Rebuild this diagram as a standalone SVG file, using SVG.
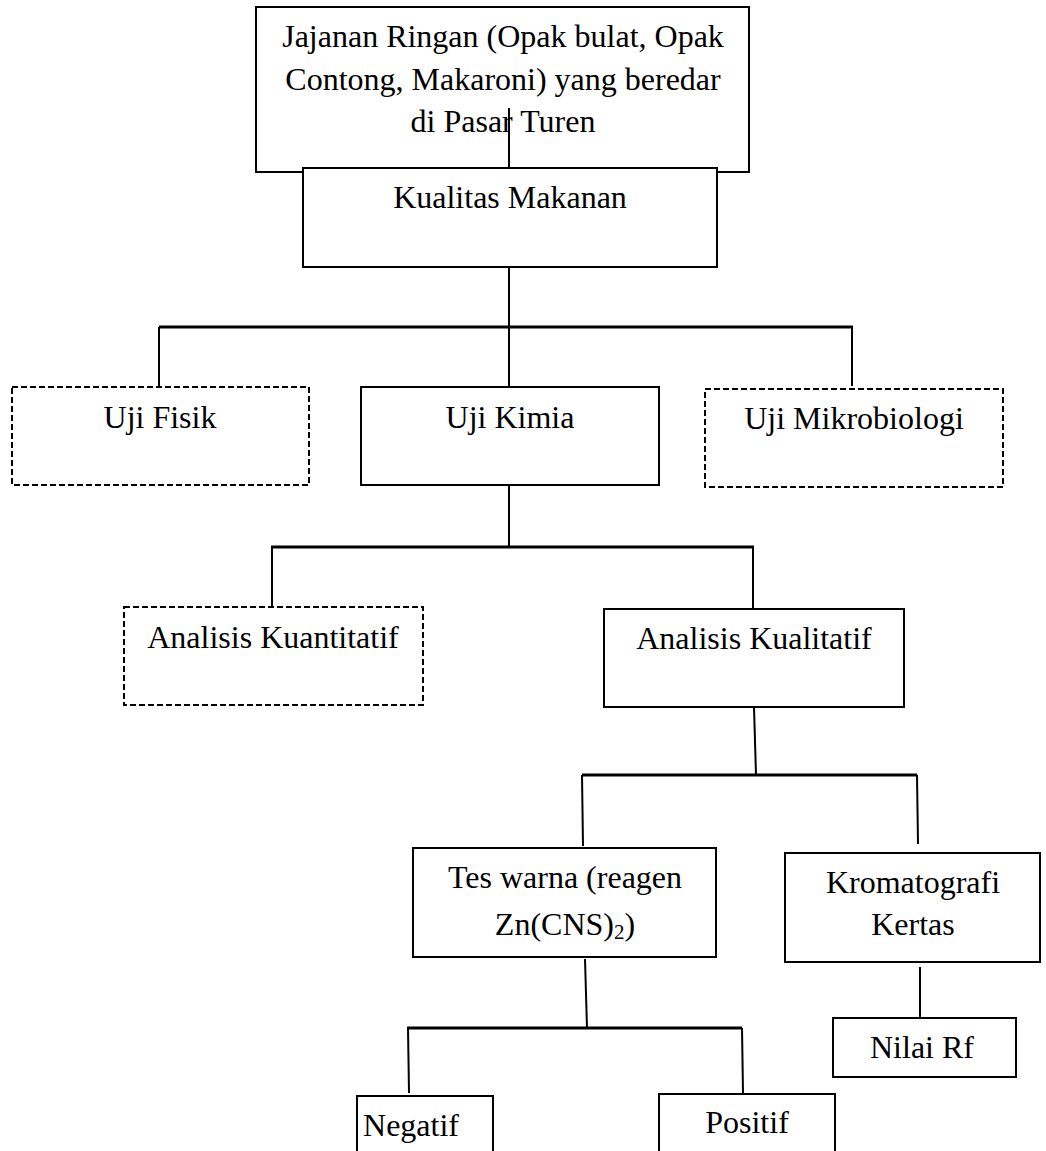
<svg xmlns="http://www.w3.org/2000/svg" width="1046" height="1151" viewBox="0 0 1046 1151">
<style>
.box{fill:#fff;stroke:#000;stroke-width:2}
.dash{fill:#fff;stroke:#000;stroke-width:2;stroke-dasharray:6 3}
.t{font-family:"Liberation Serif","Times New Roman",serif;font-size:32px;fill:#000;text-anchor:middle}
.v{stroke:#000;stroke-width:2;fill:none}
.h{stroke:#000;stroke-width:3;fill:none}
</style>
<rect width="1046" height="1151" fill="#fff"/>
<g id="n-jajanan">
<rect class="box" x="256" y="7" width="493" height="165"/>
<text class="t" x="503" y="47">Jajanan Ringan (Opak bulat, Opak</text>
<text class="t" x="503" y="90">Contong, Makaroni) yang beredar</text>
<text class="t" x="503" y="132">di Pasar Turen</text>
</g>
<g id="n-kualitas">
<rect class="box" x="303" y="168" width="414" height="99"/>
<text class="t" x="510" y="208">Kualitas Makanan</text>
</g>
<g id="n-fisik">
<rect class="dash" x="12" y="387" width="297" height="98"/>
<text class="t" x="160" y="428">Uji Fisik</text>
</g>
<g id="n-kimia">
<rect class="box" x="361" y="387" width="298" height="98"/>
<text class="t" x="510" y="428">Uji Kimia</text>
</g>
<g id="n-mikro">
<rect class="dash" x="705" y="389" width="298" height="98"/>
<text class="t" x="854" y="429">Uji Mikrobiologi</text>
</g>
<g id="n-kuantitatif">
<rect class="dash" x="124" y="607" width="299" height="98"/>
<text class="t" x="273" y="648">Analisis Kuantitatif</text>
</g>
<g id="n-kualitatif">
<rect class="box" x="604" y="609" width="300" height="98"/>
<text class="t" x="754" y="649">Analisis Kualitatif</text>
</g>
<g id="n-tes">
<rect class="box" x="413" y="848" width="303" height="109"/>
<text class="t" x="565" y="888">Tes warna (reagen</text>
<text class="t" x="565" y="935">Zn(CNS)<tspan font-size="21" dy="4">2</tspan><tspan dy="-4">)</tspan></text>
</g>
<g id="n-kromatografi">
<rect class="box" x="785" y="853" width="255" height="109"/>
<text class="t" x="913" y="893">Kromatografi</text>
<text class="t" x="913" y="935">Kertas</text>
</g>
<g id="n-rf">
<rect class="box" x="833" y="1018" width="183" height="59"/>
<text class="t" x="922" y="1058">Nilai Rf</text>
</g>
<g id="n-negatif">
<rect class="box" x="357" y="1096" width="136" height="70"/>
<text class="t" x="411" y="1136">Negatif</text>
</g>
<g id="n-positif">
<rect class="box" x="659" y="1094" width="176" height="70"/>
<text class="t" x="747" y="1133">Positif</text>
</g>
<g id="connectors">
<line class="v" x1="509" y1="108" x2="509" y2="168"/>
<line class="v" x1="509" y1="267" x2="509" y2="327"/>
<line class="h" x1="159" y1="327" x2="853" y2="327"/>
<line class="v" x1="159" y1="327" x2="159" y2="387"/>
<line class="v" x1="509" y1="327" x2="509" y2="387"/>
<line class="v" x1="852" y1="327" x2="852" y2="386"/>
<line class="v" x1="509" y1="485" x2="509" y2="547"/>
<line class="h" x1="271" y1="547" x2="754" y2="547"/>
<line class="v" x1="272" y1="547" x2="272" y2="607"/>
<line class="v" x1="753" y1="547" x2="753" y2="609"/>
<line class="v" x1="754" y1="707" x2="756" y2="775"/>
<line class="h" x1="582" y1="775" x2="917" y2="775"/>
<line class="v" x1="582" y1="775" x2="583" y2="846"/>
<line class="v" x1="917" y1="775" x2="918" y2="844"/>
<line class="v" x1="585" y1="959" x2="587" y2="1028"/>
<line class="h" x1="407" y1="1028" x2="742" y2="1028"/>
<line class="v" x1="408" y1="1028" x2="409" y2="1093"/>
<line class="v" x1="742" y1="1028" x2="743" y2="1093"/>
<line class="v" x1="920" y1="967" x2="920" y2="1018"/>
</g>
</svg>
